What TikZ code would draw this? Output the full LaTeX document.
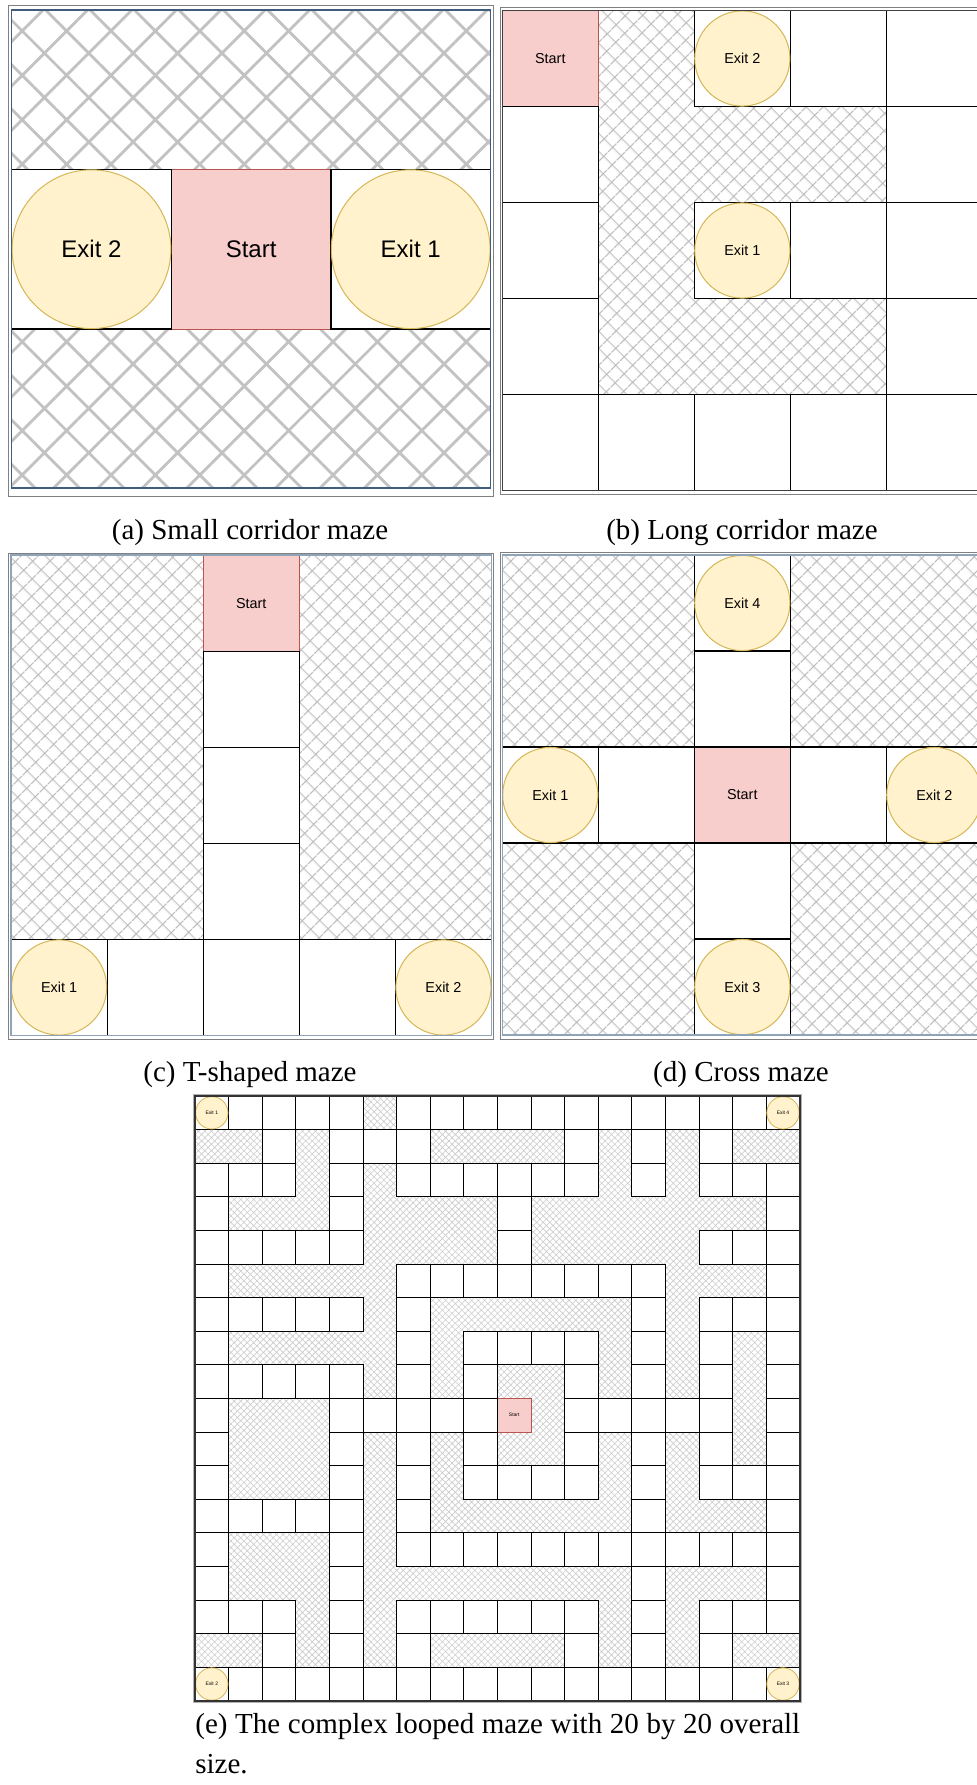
\documentclass[tikz,border=0pt]{standalone}
\usepackage{fontspec}
\setmainfont{Liberation Serif}
\setsansfont{Liberation Sans}
\usetikzlibrary{patterns.meta,shapes.geometric}
\definecolor{exitfill}{HTML}{FFF2CC}
\definecolor{exitdraw}{HTML}{D6B656}
\definecolor{startfill}{HTML}{F8CECC}
\definecolor{startdraw}{HTML}{B85450}
\definecolor{frameblue}{HTML}{3F5D7D}
\definecolor{framelight}{HTML}{8FA4B8}
\makeatletter
\newcount\mzc
% #1 origin x, #2 origin y, #3 cell size, #4 row index, #5 row string (o = open cell, x = wall, S = start)
\newcommand\mazerow[5]{%
  \global\mzc=0\relax
  \@tfor\mzch:=#5\do{%
    \if o\mzch
      \path[ecell] ({#1+\the\mzc*#3},{#2+#4*#3}) rectangle ++(#3,#3);
    \fi
    \global\advance\mzc by 1\relax
  }}
\makeatother
\tikzset{
  hatchA/.style={pattern={Hatch[angle=45,distance=15.7pt,line width=1.4pt]},pattern color=black!24},
  hatchB/.style={pattern={Hatch[angle=45,distance=6.5pt,line width=0.7pt]},pattern color=black!26},
  hatchE/.style={pattern={Hatch[angle=45,distance=2.3pt,line width=0.3pt]},pattern color=black!20},
  cellA/.style={fill=white,draw=black,line width=0.65pt},
  cellB/.style={fill=white,draw=black,line width=0.6pt},
  cellE/.style={fill=white,draw=black,line width=0.5pt},
  startcell/.style={fill=startfill,draw=startdraw,line width=0.5pt},
  exitnode/.style={ellipse,draw=exitdraw,fill=exitfill,inner sep=0pt,line width=0.5pt},
  lbl/.style={inner sep=0pt},
  fontA/.style={font=\sffamily\fontsize{12}{14}\selectfont},
  fontB/.style={font=\sffamily\fontsize{7.2}{8.6}\selectfont},
  fontE/.style={font=\sffamily\fontsize{2.5}{3}\selectfont},
  captext/.style={font=\fontsize{14.5}{20}\selectfont,inner sep=0pt},
  outerframe/.style={draw=black!50,line width=0.5pt},
}
\begin{document}
\begin{tikzpicture}[x=0.5pt,y=-0.5pt]
\useasboundingbox (0,0) rectangle (977,1785);
\clip (0,0) rectangle (977,1785);
\fill[white] (0,0) rectangle (977,1785);

% ---------------- (a) Small corridor maze ----------------
\fill[hatchA] (11.7,9.8) rectangle (490.5,488.6);
\path[startcell] (171.3,169.4) rectangle ++(159.6,159.6);
\tikzset{ecell/.style=cellA}
\mazerow{11.7}{9.8}{159.6}{1}{oSo}
\node[exitnode,fontA,minimum width=79.4pt,minimum height=79.4pt] (aexit2) at (91.5,249.2) {Exit 2};
\node[lbl,fontA] (astart) at (251.1,249.2) {Start};
\node[exitnode,fontA,minimum width=79.4pt,minimum height=79.4pt] (aexit1) at (410.7,249.2) {Exit 1};
\draw[frameblue,line width=0.75pt] (11.7,9.8) rectangle (490.5,488.2);
\draw[outerframe] (8.5,5.5) rectangle (493.3,496.5);
\node[captext] (capa) at (250,533) {(a) Small corridor maze};

% ---------------- (b) Long corridor maze ----------------
\fill[hatchB] (502.3,10.5) rectangle (982.3,490.5);
\path[startcell] (502.3,10.5) rectangle ++(96,96);
\tikzset{ecell/.style=cellB}
\mazerow{502.3}{10.5}{96}{0}{Sxooo}
\mazerow{502.3}{10.5}{96}{1}{oxxxo}
\mazerow{502.3}{10.5}{96}{2}{oxooo}
\mazerow{502.3}{10.5}{96}{3}{oxxxo}
\mazerow{502.3}{10.5}{96}{4}{ooooo}
\node[lbl,fontB] (bstart) at (550.3,58.5) {Start};
\node[exitnode,fontB,minimum width=47.6pt,minimum height=47.6pt] (bexit2) at (742.3,58.5) {Exit 2};
\node[exitnode,fontB,minimum width=47.6pt,minimum height=47.6pt] (bexit1) at (742.3,250.5) {Exit 1};
\draw[black!75,line width=0.6pt] (502.3,10.5) rectangle (982.3,490.5);
\draw[outerframe] (500,7.7) rectangle (985,494.6);
\node[captext] (capb) at (742,533) {(b) Long corridor maze};

% ---------------- (c) T-shaped maze ----------------
\fill[hatchB] (11,555) rectangle (491.5,1035.5);
\path[startcell] (203.2,555) rectangle ++(96.1,96.1);
\tikzset{ecell/.style=cellB}
\mazerow{11}{555}{96.1}{0}{xxSxx}
\mazerow{11}{555}{96.1}{1}{xxoxx}
\mazerow{11}{555}{96.1}{2}{xxoxx}
\mazerow{11}{555}{96.1}{3}{xxoxx}
\mazerow{11}{555}{96.1}{4}{ooooo}
\node[lbl,fontB] (cstart) at (251.25,603.05) {Start};
\node[exitnode,fontB,minimum width=47.6pt,minimum height=47.6pt] (cexit1) at (59.05,987.45) {Exit 1};
\node[exitnode,fontB,minimum width=47.6pt,minimum height=47.6pt] (cexit2) at (443.45,987.45) {Exit 2};
\draw[framelight,line width=0.6pt] (11,555) rectangle (491.5,1035.5);
\draw[outerframe] (8.3,553) rectangle (493.3,1039.3);
\node[captext] (capc) at (250,1075) {(c) T-shaped maze};

% ---------------- (d) Cross maze ----------------
\fill[hatchB] (502.3,555) rectangle (982.3,1035);
\path[startcell] (694.3,747) rectangle ++(96,96);
\tikzset{ecell/.style=cellB}
\mazerow{502.3}{555}{96}{0}{xxoxx}
\mazerow{502.3}{555}{96}{1}{xxoxx}
\mazerow{502.3}{555}{96}{2}{ooSoo}
\mazerow{502.3}{555}{96}{3}{xxoxx}
\mazerow{502.3}{555}{96}{4}{xxoxx}
\node[exitnode,fontB,minimum width=47.6pt,minimum height=47.6pt] (dexit4) at (742.3,603) {Exit 4};
\node[exitnode,fontB,minimum width=47.6pt,minimum height=47.6pt] (dexit1) at (550.3,795) {Exit 1};
\node[lbl,fontB] (dstart) at (742.3,795) {Start};
\node[exitnode,fontB,minimum width=47.6pt,minimum height=47.6pt] (dexit2) at (934.3,795) {Exit 2};
\node[exitnode,fontB,minimum width=47.6pt,minimum height=47.6pt] (dexit3) at (742.3,987) {Exit 3};
\draw[framelight,line width=0.6pt] (502.3,555) rectangle (982.3,1035);
\draw[outerframe] (500,552.7) rectangle (985,1039.3);
\node[captext] (capd) at (741,1075) {(d) Cross maze};

% ---------------- (e) Complex looped maze ----------------
\fill[hatchE] (195,1096) rectangle (799.8,1700.8);
\path[startcell,line width=0.4pt] (497.4,1398.4) rectangle ++(33.6,33.6);
\tikzset{ecell/.style=cellE}
\mazerow{195}{1096}{33.6}{0}{oooooxoooooooooooo}
\mazerow{195}{1096}{33.6}{1}{xxoxoooxxxxoxoxoxx}
\mazerow{195}{1096}{33.6}{2}{oooxoxooooooxoxooo}
\mazerow{195}{1096}{33.6}{3}{oxxxoxxxxoxxxxxxxo}
\mazerow{195}{1096}{33.6}{4}{oooooxxxxoxxxxxooo}
\mazerow{195}{1096}{33.6}{5}{oxxxxxooooooooxxxo}
\mazerow{195}{1096}{33.6}{6}{oooooxoxxxxxxoxooo}
\mazerow{195}{1096}{33.6}{7}{oxxxxxoxooooxoxoxo}
\mazerow{195}{1096}{33.6}{8}{oooooxoxoxxoxoxoxo}
\mazerow{195}{1096}{33.6}{9}{oxxxoooooSxoooooxo}
\mazerow{195}{1096}{33.6}{10}{oxxxoxoxoxxoxoxoxo}
\mazerow{195}{1096}{33.6}{11}{oxxxoxoxooooxoxooo}
\mazerow{195}{1096}{33.6}{12}{oooooxoxxxxxxoxxxo}
\mazerow{195}{1096}{33.6}{13}{oxxxoxoooooooooooo}
\mazerow{195}{1096}{33.6}{14}{oxxxoxxxxxxxxoxxxo}
\mazerow{195}{1096}{33.6}{15}{oooxoxooooooxoxooo}
\mazerow{195}{1096}{33.6}{16}{xxoxoxoxxxxoxoxoxx}
\mazerow{195}{1096}{33.6}{17}{oooooooooooooooooo}
\node[lbl,fontE] (estart) at (514.2,1415.2) {Start};
\node[exitnode,fontE,line width=0.4pt,minimum width=16.2pt,minimum height=16.2pt] (eexit1) at (211.8,1112.8) {Exit 1};
\node[exitnode,fontE,line width=0.4pt,minimum width=16.2pt,minimum height=16.2pt] (eexit4) at (783,1112.8) {Exit 4};
\node[exitnode,fontE,line width=0.4pt,minimum width=16.2pt,minimum height=16.2pt] (eexit2) at (211.8,1684) {Exit 2};
\node[exitnode,fontE,line width=0.4pt,minimum width=16.2pt,minimum height=16.2pt] (eexit3) at (783,1684) {Exit 3};
\draw[black!80,line width=0.9pt] (195,1096) rectangle (799.8,1700.8);
\draw[black!30,line width=0.5pt] (193.4,1094.4) rectangle (801.4,1702.4);
\node[captext,text width=302.4pt,align=justify,anchor=north west] (cape) at (195,1713) {(e) The complex looped maze with 20 by 20 overall\linebreak size.};
\end{tikzpicture}
\end{document}
